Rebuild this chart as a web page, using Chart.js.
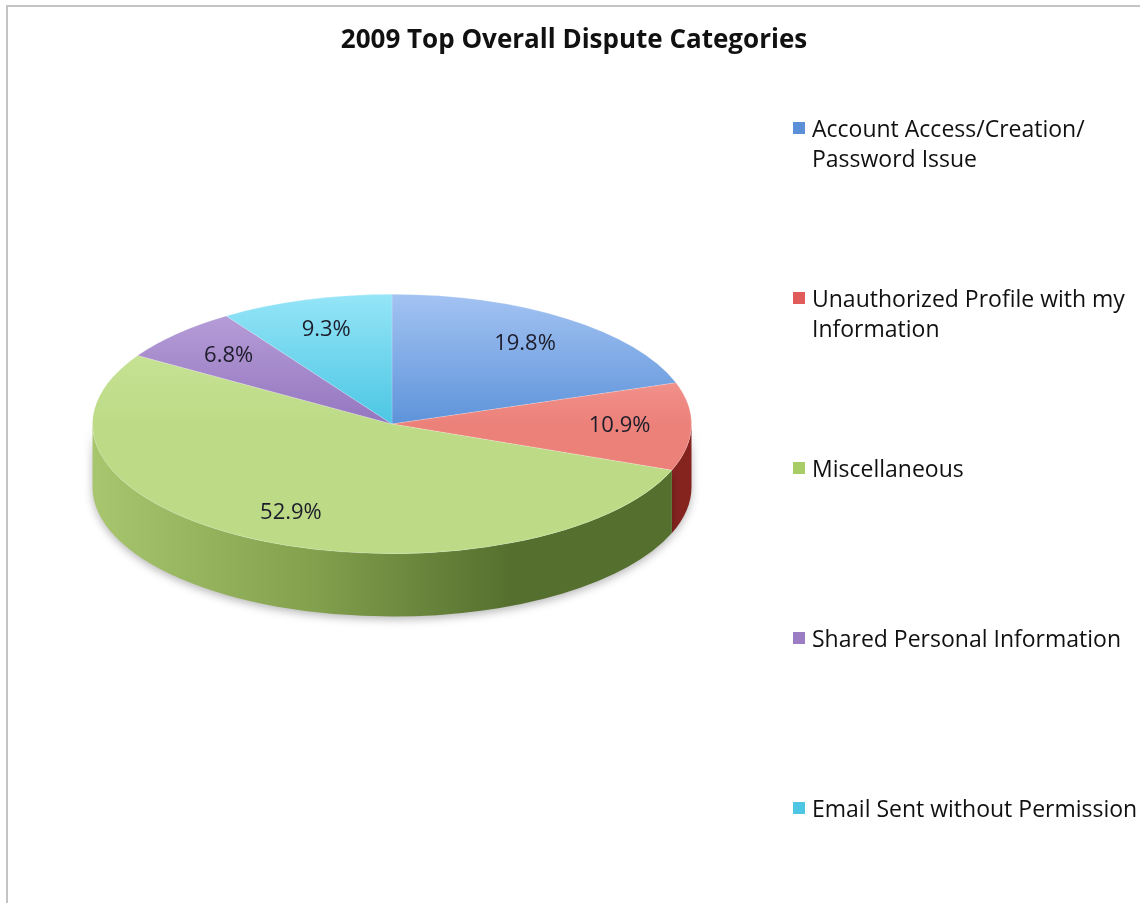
<!DOCTYPE html>
<html>
<head>
<meta charset="utf-8">
<script src="https://cdn.jsdelivr.net/npm/chart.js@4.4.1/dist/chart.umd.min.js"></script>
<style>
  html, body { margin: 0; padding: 0; background: #fff; }
  #wrap { position: relative; width: 1140px; height: 903px; overflow: hidden; font-family: "Open Sans", Lato, sans-serif; }
  #frame { position: absolute; left: 6px; top: 5px; right: -10px; bottom: -10px; border-left: 2px solid #c4c4c4; border-top: 2px solid #c4c4c4; }
  #title { position: absolute; left: 8px; right: 0; top: 22px; line-height: 32px; text-align: center; font-weight: bold; font-size: 26px; color: #111; }
  #chartBox { position: absolute; left: 0; top: 0; width: 1140px; height: 903px; }
  #legend { position: absolute; left: 793px; top: 113px; }
  #legend .item { display: flex; height: 170px; }
  #legend .box { width: 12px; height: 12px; margin-top: 9px; margin-right: 7px; flex: none; }
  #legend .txt { font-size: 23px; line-height: 30px; color: #111; white-space: nowrap; }
</style>
</head>
<body>
<div id="wrap">
  <div id="frame"></div>
  <div id="chartBox"><canvas id="myChart"></canvas></div>
  <div id="title">2009 Top Overall Dispute Categories</div>
  <div id="legend"></div>
</div>
<script>
// data
const categories = [
    ['Account Access/Creation/', 'Password Issue'],
    ['Unauthorized Profile with my', 'Information'],
    ['Miscellaneous'],
    ['Shared Personal Information'],
    ['Email Sent without Permission']
];
const percents = [19.8, 10.9, 52.9, 6.8, 9.3];

// colours: top face (light -> dark), side (left -> right), legend swatch
const topLight = ['#a3c3f2', '#f9b2ac', '#cde79e', '#bca4dc', '#95e5f7'];
const topDark  = ['#5e93da', '#ec817a', '#bddb87', '#9476bf', '#4cc6e4'];
const sideLight = ['#4d76b0', '#b03a35', '#a8c66e', '#7a5ea3', '#3aa3bd'];
const sideMid   = ['#3f6498', '#9a2c28', '#85a34f', '#684f8e', '#2f8ea6'];
const sideDark  = ['#2f5080', '#85231f', '#556f2e', '#553f78', '#257a8e'];
const swatches = ['#5b8fd8', '#e05c5a', '#a8cd66', '#9a7dc3', '#4cc6e3'];

const TILT = 0.433;      // vertical squash of the pie
const DEPTH = 0.21;      // side height, as part of the radius
const LABEL_POS = 0.76;  // where the % labels sit along the radius

function frontRanges(s, e) {
    const out = [];
    [0, 2 * Math.PI].forEach(base => {
        const a = Math.max(s, base), b = Math.min(e, base + Math.PI);
        if (b > a) out.push([a, b]);
    });
    return out;
}

// fakes the 3D look: draws the rim, then squashes the real arcs
const pie3d = {
    id: 'pie3d',
    beforeDatasetsDraw(chart) {
        const ctx = chart.ctx;
        const arcs = chart.getDatasetMeta(0).data;
        const cx = arcs[0].x, cy = arcs[0].y, r = arcs[0].outerRadius;
        const ry = r * TILT, depth = r * DEPTH;

        arcs.forEach((arc, i) => {
            frontRanges(arc.startAngle, arc.endAngle).forEach(([a, b]) => {
                ctx.save();
                ctx.beginPath();
                ctx.ellipse(cx, cy, r, ry, 0, a, b);
                ctx.ellipse(cx, cy + depth, r, ry, 0, b, a, true);
                ctx.closePath();
                const g = ctx.createLinearGradient(cx - r, 0, cx + r, 0);
                g.addColorStop(0, sideLight[i]);
                g.addColorStop(0.35, sideMid[i]);
                g.addColorStop(0.7, sideDark[i]);
                g.addColorStop(1, sideDark[i]);
                ctx.fillStyle = g;
                ctx.shadowColor = 'rgba(0,0,0,0.28)';
                ctx.shadowBlur = 9;
                ctx.shadowOffsetY = 3;
                ctx.fill();
                ctx.restore();
            });
        });

        ctx.save();
        ctx.translate(cx, cy);
        ctx.scale(1, TILT);
        ctx.translate(-cx, -cy);
    },
    afterDatasetsDraw(chart) {
        const ctx = chart.ctx;
        ctx.restore();
        const arcs = chart.getDatasetMeta(0).data;
        const values = chart.data.datasets[0].data;
        ctx.save();
        ctx.font = '22px "Open Sans", Lato, sans-serif';
        ctx.fillStyle = '#1c1c2a';
        ctx.textAlign = 'center';
        ctx.textBaseline = 'middle';
        arcs.forEach((arc, i) => {
            const mid = (arc.startAngle + arc.endAngle) / 2;
            const x = arc.x + Math.cos(mid) * arc.outerRadius * LABEL_POS;
            const y = arc.y + Math.sin(mid) * arc.outerRadius * LABEL_POS * TILT;
            ctx.fillText(values[i].toFixed(1) + '%', x, y);
        });
        ctx.restore();
    }
};

function topFill(c) {
    const area = c.chart.chartArea;
    const i = c.dataIndex;
    if (!area) return topDark[i];
    const cy = (area.top + area.bottom) / 2;
    const r = Math.min(area.right - area.left, area.bottom - area.top) / 2;
    const g = c.chart.ctx.createLinearGradient(0, cy - r, 0, cy + r);
    g.addColorStop(0, topLight[i]);
    g.addColorStop(0.5, topDark[i]);
    g.addColorStop(1, topDark[i]);
    return g;
}

const ctx = document.getElementById('myChart').getContext('2d');
window.myChart = new Chart(ctx, {
    type: 'pie',
    data: {
        labels: categories,
        datasets: [{
            data: percents,
            backgroundColor: topFill,
            borderColor: 'rgba(255,255,255,0.25)',
            borderWidth: 1,
            clip: false
        }]
    },
    options: {
        responsive: true,
        maintainAspectRatio: false,
        animation: false,
        layout: { padding: { left: 92, right: 448, top: 60, bottom: 115 } },
        plugins: {
            legend: { display: false },
            title: { display: false },
            tooltip: { enabled: false }
        }
    },
    plugins: [pie3d]
});

// legend built from the same arrays
const legendEl = document.getElementById('legend');
categories.forEach((lines, i) => {
    const item = document.createElement('div');
    item.className = 'item';
    const box = document.createElement('span');
    box.className = 'box';
    box.style.background = swatches[i];
    const txt = document.createElement('span');
    txt.className = 'txt';
    txt.innerHTML = lines.join('<br>');
    item.appendChild(box);
    item.appendChild(txt);
    legendEl.appendChild(item);
});
</script>
</body>
</html>
